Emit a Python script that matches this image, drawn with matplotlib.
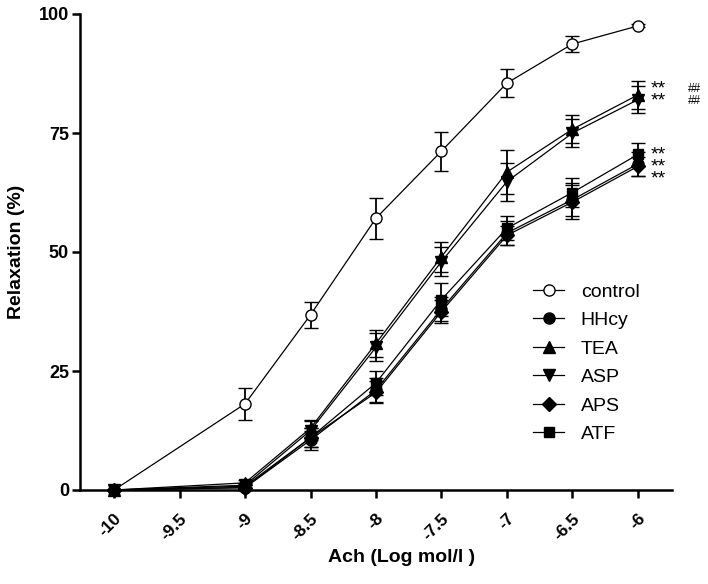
import numpy as np
import matplotlib.pyplot as plt
from matplotlib.lines import Line2D

plt.rcParams['font.family'] = ['Liberation Sans', 'DejaVu Sans']

dose = [-10, -9, -8.5, -8, -7.5, -7, -6.5, -6]

control = [0, 18.1, 36.8, 57.1, 71.2, 85.5, 93.7, 97.5]
control_err = [0, 3.3, 2.8, 4.3, 4.1, 3.0, 1.7, 0.3]

hhcy = [0, 0.5, 10.5, 21.0, 38.0, 54.0, 61.0, 68.5]
hhcy_err = [0, 0.5, 2.0, 2.5, 2.6, 2.5, 3.5, 2.5]

tea = [0, 1.5, 13.0, 30.8, 49.0, 66.8, 75.8, 83.0]
tea_err = [0, 0.5, 1.8, 2.8, 3.2, 4.7, 3.0, 3.0]

asp = [0, 1.0, 12.5, 30.0, 48.0, 64.8, 75.0, 82.0]
asp_err = [0, 0.5, 2.0, 3.0, 3.0, 4.0, 3.0, 2.8]

aps = [0, 0.5, 11.0, 20.5, 37.5, 53.5, 60.5, 68.0]
aps_err = [0, 0.5, 2.0, 2.3, 2.4, 2.0, 3.5, 2.0]

atf = [0, 0.8, 11.0, 22.5, 40.0, 55.0, 62.5, 70.5]
atf_err = [0, 0.5, 2.0, 2.6, 3.5, 2.5, 3.0, 2.4]

names = ['control', 'HHcy', 'TEA', 'ASP', 'APS', 'ATF']
values = [control, hhcy, tea, asp, aps, atf]
errors = [control_err, hhcy_err, tea_err, asp_err, aps_err, atf_err]
markers = ['o', 'o', '^', 'v', 'D', 's']
sizes = [8, 8, 8, 8, 7, 7.5]
facecolors = ['white', 'black', 'black', 'black', 'black', 'black']

fig = plt.figure(figsize=(7.08, 5.84), dpi=100)
ax = fig.add_axes([80/708, 94/584, 592/708, 476/584])

for i in range(len(names)):
    ax.errorbar(dose, values[i], yerr=errors[i], color='black', lw=0.9,
                marker=markers[i], ms=sizes[i], mfc=facecolors[i], mec='black',
                mew=1.0, ecolor='black', elinewidth=1.3, capsize=5, capthick=1.3,
                clip_on=False, zorder=3)

ax.set_xlim(-10.26, -5.74)
ax.set_ylim(0, 100)
ax.set_xticks(dose[:1] + [-9.5] + dose[1:])
ax.set_xticklabels(['-10', '-9.5', '-9', '-8.5', '-8', '-7.5', '-7', '-6.5', '-6'],
                   rotation=45, ha='right', va='top', rotation_mode='anchor',
                   fontsize=12.5, fontweight='bold')
ax.set_yticks([0, 25, 50, 75, 100])
ax.set_yticklabels(['0', '25', '50', '75', '100'], fontsize=13, fontweight='bold')
ax.tick_params(axis='both', length=6, width=1.8, direction='out')
ax.tick_params(axis='x', pad=9)
ax.tick_params(axis='y', pad=2)
for s in ['top', 'right']:
    ax.spines[s].set_visible(False)
for s in ['left', 'bottom']:
    ax.spines[s].set_linewidth(1.8)

ax.set_xlabel('Ach (Log mol/l )', fontsize=14, fontweight='bold')
ax.xaxis.set_label_coords(0.544, -0.125)
ax.set_ylabel('Relaxation (%)', fontsize=14, fontweight='bold')
ax.yaxis.set_label_coords(-0.093, 0.5)

# significance marks
ax.text(-5.9, 86.0, '**\n**', fontsize=14, va='top', ha='left', linespacing=0.62)
ax.text(-5.62, 85.6, '##\n##', fontsize=8.5, va='top', ha='left', linespacing=1.0)
ax.text(-5.9, 72.2, '**\n**\n**', fontsize=14, va='top', ha='left', linespacing=0.62)

handles = [Line2D([], [], color='black', lw=0.9, marker=markers[i], ms=sizes[i],
                  mfc=facecolors[i], mec='black') for i in range(len(names))]
ax.legend(handles, names, loc='upper left', bbox_to_anchor=(533/708, 1 - 283/584),
          bbox_transform=fig.transFigure, frameon=False, fontsize=14,
          handlelength=1.6, handletextpad=0.85, labelspacing=0.56, borderpad=0,
          borderaxespad=0)

fig.savefig('out.png', dpi=100)
